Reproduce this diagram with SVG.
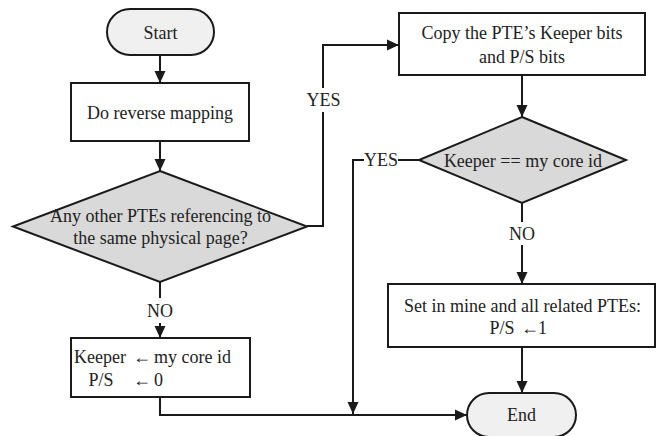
<svg xmlns="http://www.w3.org/2000/svg" width="657" height="436" viewBox="0 0 657 436">
<defs>
<marker id="arr" markerUnits="userSpaceOnUse" markerWidth="12" markerHeight="12" refX="12" refY="6" orient="auto">
<path d="M0,0.5 L12,6 L0,11.5 z" fill="#1a1a1a"/>
</marker>
</defs>
<style>
.shape{stroke:#1a1a1a;stroke-width:2;}
.box{fill:#ffffff;}
.term{fill:#f0f0f0;}
.dec{fill:#d9d9d9;}
.t{font-family:"Liberation Serif","Times New Roman",serif;font-size:18px;fill:#222;}
.c{text-anchor:middle;}
.conn{fill:none;stroke:#1a1a1a;stroke-width:2;}
</style>
<rect width="657" height="436" fill="#ffffff"/>
<g id="connectors">
<path class="conn" d="M160,55 V83" marker-end="url(#arr)"/>
<path class="conn" d="M160,141 V171" marker-end="url(#arr)"/>
<path class="conn" d="M160,282 V298"/>
<path class="conn" d="M160,323 V338" marker-end="url(#arr)"/>
<path class="conn" d="M160,397 V415 H467" marker-end="url(#arr)"/>
<path class="conn" d="M307,226 H323 V112"/>
<path class="conn" d="M323,88 V45 H399" marker-end="url(#arr)"/>
<path class="conn" d="M522,75 V117" marker-end="url(#arr)"/>
<path class="conn" d="M522,203 V222"/>
<path class="conn" d="M522,245 V284" marker-end="url(#arr)"/>
<path class="conn" d="M419,160 H398"/>
<path class="conn" d="M364,160 H353 V414" marker-end="url(#arr)"/>
<path class="conn" d="M522,347 V393" marker-end="url(#arr)"/>
<text class="t c" x="323.5" y="106">YES</text>
<text class="t c" x="381" y="166">YES</text>
<text class="t c" x="160" y="317">NO</text>
<text class="t c" x="522" y="240">NO</text>
</g>
<g id="start">
<rect class="shape term" x="107" y="9" width="107" height="46" rx="23"/>
<text class="t c" x="160.5" y="38.5">Start</text>
</g>
<g id="reverse">
<rect class="shape box" x="71" y="83" width="178" height="58"/>
<text class="t c" x="160" y="118.5">Do reverse mapping</text>
</g>
<g id="decision1">
<polygon class="shape dec" points="160,171 307,226.5 160,282 13,226.5"/>
<text class="t c" x="160.5" y="222">Any other PTEs referencing to</text>
<text class="t c" x="160.5" y="244">the same physical page?</text>
</g>
<g id="keeper-set">
<rect class="shape box" x="71" y="338" width="179" height="59"/>
<text class="t" x="74" y="363">Keeper</text>
<text class="t" x="133" y="363">←</text>
<text class="t" x="154" y="363">my core id</text>
<text class="t" x="88.5" y="386">P/S</text>
<text class="t" x="133" y="386">←</text>
<text class="t" x="154" y="386">0</text>
</g>
<g id="copy">
<rect class="shape box" x="399" y="13" width="246" height="62"/>
<text class="t c" x="522" y="39">Copy the PTE’s Keeper bits</text>
<text class="t c" x="522" y="62.5">and P/S bits</text>
</g>
<g id="decision2">
<polygon class="shape dec" points="522,117 626,160 522,203 419,160"/>
<text class="t c" x="523" y="167">Keeper == my core id</text>
</g>
<g id="setall">
<rect class="shape box" x="388" y="284" width="267" height="63"/>
<text class="t c" x="522.5" y="312">Set in mine and all related PTEs:</text>
<text class="t" x="489.5" y="334">P/S</text>
<text class="t" x="521" y="334">←</text>
<text class="t" x="538" y="334">1</text>
</g>
<g id="end">
<rect class="shape term" x="467" y="393" width="109" height="44" rx="22"/>
<text class="t c" x="521.5" y="421">End</text>
</g>
</svg>
